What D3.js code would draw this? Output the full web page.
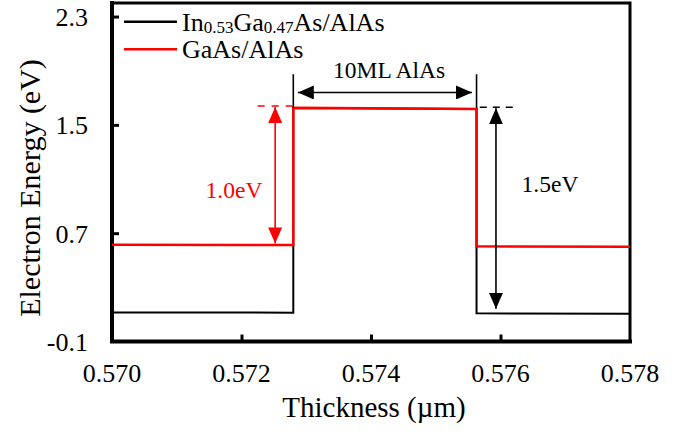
<!DOCTYPE html>
<html>
<head>
<meta charset="utf-8">
<script src="https://cdn.jsdelivr.net/npm/d3@7"></script>
<style>
  body { margin: 0; background: #fff; }
  svg { display: block; font-family: "Liberation Serif", "Times New Roman", serif; }
</style>
</head>
<body>
<div id="chart"></div>
<script>
// band edge profiles, thickness in um, energy in eV
const inGaAsX = [0.5700, 0.5728, 0.5728, 0.57563, 0.57563, 0.5780];
const inGaAsY = [0.115, 0.113, 1.625, 1.617, 0.108, 0.105];
const gaAsX = [0.5700, 0.5728, 0.5728, 0.57563, 0.57563, 0.5780];
const gaAsY = [0.614, 0.612, 1.626, 1.617, 0.603, 0.600];

const xTicks = [0.570, 0.572, 0.574, 0.576, 0.578];
const yTicks = [-0.1, 0.7, 1.5, 2.3];

const width = 688, height = 434;
const margin = { left: 112, right: 58, top: 3, bottom: 93 };

const svg = d3.select("#chart").append("svg")
  .attr("width", width)
  .attr("height", height);

const x = d3.scaleLinear().domain([0.570, 0.578]).range([margin.left, width - margin.right]);
const y = d3.scaleLinear().domain([-0.1, 2.4]).range([height - margin.bottom + 0.5, margin.top]);

// arrow heads
const defs = svg.append("defs");
[["black", "#000"], ["red", "#ff0000"]].forEach(([id, c]) => {
  defs.append("marker")
    .attr("id", "head-" + id)
    .attr("markerUnits", "userSpaceOnUse")
    .attr("viewBox", "0 0 16 14")
    .attr("refX", 16).attr("refY", 7)
    .attr("markerWidth", 16).attr("markerHeight", 14)
    .attr("orient", "auto-start-reverse")
    .append("path")
    .attr("d", "M0,0 L16,7 L0,14 Z")
    .attr("fill", c);
});

// frame: top and right
svg.append("path")
  .attr("d", `M${x(0.570)},${y(2.4)} H${x(0.578)} V${y(-0.1)}`)
  .attr("fill", "none").attr("stroke", "#000").attr("stroke-width", 3);

// axes with inward ticks
const xAxis = svg.append("g")
  .attr("transform", `translate(0,${y(-0.1)})`)
  .call(d3.axisBottom(x).tickValues(xTicks.slice(1, -1)).tickSize(-7).tickFormat(""));
const yAxis = svg.append("g")
  .attr("transform", `translate(${x(0.570)},0)`)
  .call(d3.axisLeft(y).tickValues(yTicks.slice(1)).tickSize(-7).tickFormat(""));
[xAxis, yAxis].forEach(g => {
  g.select(".domain").remove();
  g.selectAll(".tick line").attr("stroke", "#000").attr("stroke-width", 3);
});
svg.append("path")
  .attr("d", `M${x(0.570)},${y(2.4)} V${y(-0.1)} H${x(0.578)}`)
  .attr("fill", "none").attr("stroke", "#000").attr("stroke-width", 4)
  .attr("stroke-linecap", "square");

// tick labels
svg.append("g").selectAll("text").data(xTicks).join("text")
  .attr("x", d => x(d)).attr("y", 382)
  .attr("text-anchor", "middle").attr("font-size", 26)
  .text(d => d.toFixed(3));
svg.append("g").selectAll("text").data(yTicks).join("text")
  .attr("x", 88).attr("y", d => y(d) + 9.5)
  .attr("text-anchor", "end").attr("font-size", 26)
  .text(d => d.toFixed(1));

// axis titles
svg.append("text")
  .attr("x", 374).attr("y", 417)
  .attr("text-anchor", "middle").attr("font-size", 29)
  .text("Thickness (\u00b5m)");
svg.append("text")
  .attr("transform", "translate(40,188) rotate(-90)")
  .attr("text-anchor", "middle").attr("font-size", 30)
  .text("Electron Energy (eV)");

// series
const line = d3.line().x(d => x(d[0])).y(d => y(d[1]));
svg.append("path")
  .datum(d3.zip(inGaAsX, inGaAsY))
  .attr("d", line)
  .attr("fill", "none").attr("stroke", "#000").attr("stroke-width", 2);
svg.append("path")
  .datum(d3.zip(gaAsX, gaAsY))
  .attr("d", line)
  .attr("fill", "none").attr("stroke", "#ff0000").attr("stroke-width", 2.5);

// annotations
const ann = svg.append("g");
// 10ML AlAs width markers
[0.5728, 0.57563].forEach(v => {
  ann.append("line")
    .attr("x1", x(v)).attr("x2", x(v))
    .attr("y1", y(1.874)).attr("y2", y(1.625))
    .attr("stroke", "#000").attr("stroke-width", 1.6);
});
ann.append("line")
  .attr("x1", x(0.57287)).attr("x2", x(0.57556))
  .attr("y1", y(1.739)).attr("y2", y(1.739))
  .attr("stroke", "#000").attr("stroke-width", 1.6)
  .attr("marker-start", "url(#head-black)")
  .attr("marker-end", "url(#head-black)");
ann.append("text")
  .attr("x", x(0.57428)).attr("y", 78)
  .attr("text-anchor", "middle").attr("font-size", 23.5)
  .text("10ML AlAs");

// dashed reference levels
ann.append("line")
  .attr("x1", x(0.57225)).attr("x2", x(0.5728))
  .attr("y1", y(1.639)).attr("y2", y(1.639))
  .attr("stroke", "#ff0000").attr("stroke-width", 1.6)
  .attr("stroke-dasharray", "7,7");
ann.append("line")
  .attr("x1", x(0.57568)).attr("x2", x(0.57619))
  .attr("y1", y(1.630)).attr("y2", y(1.630))
  .attr("stroke", "#000").attr("stroke-width", 1.6)
  .attr("stroke-dasharray", "7,6");

// red 1.0eV arrow
ann.append("line")
  .attr("x1", x(0.57252)).attr("x2", x(0.57252))
  .attr("y1", y(1.632)).attr("y2", y(0.624))
  .attr("stroke", "#ff0000").attr("stroke-width", 1.6)
  .attr("marker-start", "url(#head-red)")
  .attr("marker-end", "url(#head-red)");
ann.append("text")
  .attr("x", 234).attr("y", 198)
  .attr("text-anchor", "middle").attr("font-size", 23.5)
  .attr("fill", "#ff0000")
  .text("1.0eV");

// black 1.5eV arrow
ann.append("line")
  .attr("x1", x(0.57593)).attr("x2", x(0.57593))
  .attr("y1", y(1.622)).attr("y2", y(0.141))
  .attr("stroke", "#000").attr("stroke-width", 1.6)
  .attr("marker-start", "url(#head-black)")
  .attr("marker-end", "url(#head-black)");
ann.append("text")
  .attr("x", 550).attr("y", 192)
  .attr("text-anchor", "middle").attr("font-size", 23.5)
  .text("1.5eV");

// legend
const legend = svg.append("g");
legend.append("line")
  .attr("x1", 124).attr("x2", 177).attr("y1", 21.7).attr("y2", 21.7)
  .attr("stroke", "#000").attr("stroke-width", 2.5);
legend.append("line")
  .attr("x1", 124).attr("x2", 177).attr("y1", 49.3).attr("y2", 49.3)
  .attr("stroke", "#ff0000").attr("stroke-width", 2.5);
const t1 = legend.append("text")
  .attr("x", 182).attr("y", 30.7).attr("font-size", 26);
t1.append("tspan").text("In");
t1.append("tspan").attr("font-size", 17).attr("dy", 2).text("0.53");
t1.append("tspan").attr("dy", -2).text("Ga");
t1.append("tspan").attr("font-size", 17).attr("dy", 2).text("0.47");
t1.append("tspan").attr("dy", -2).text("As/AlAs");
legend.append("text")
  .attr("x", 182).attr("y", 58.3).attr("font-size", 26)
  .text("GaAs/AlAs");
</script>
</body>
</html>
